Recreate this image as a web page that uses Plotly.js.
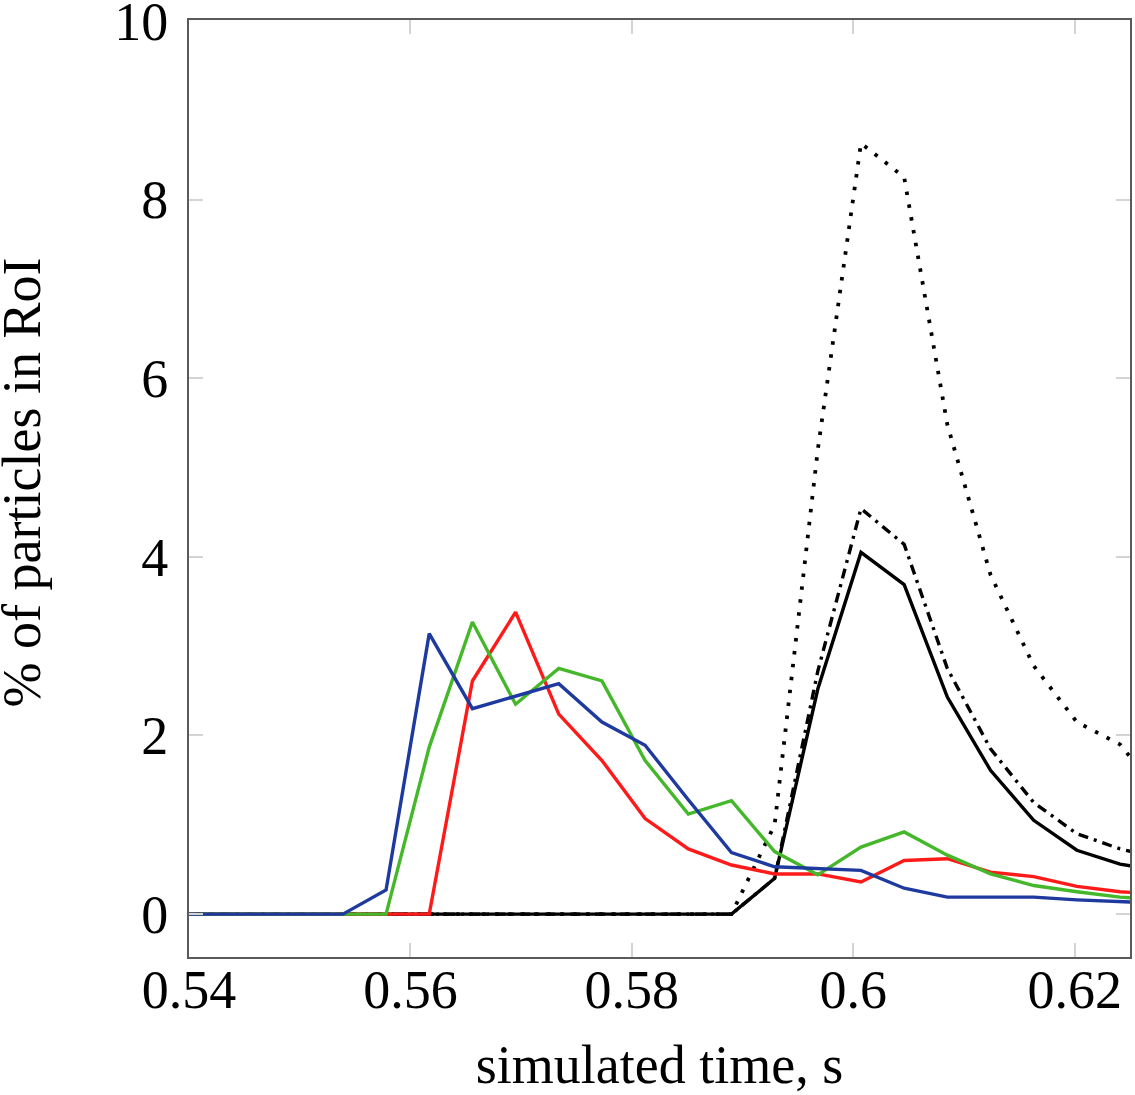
<!DOCTYPE html>
<html>
<head>
<meta charset="utf-8">
<script src="https://cdn.plot.ly/plotly-3.0.1.min.js"></script>
<style>
	html, body { margin: 0; padding: 0; background: #fff; }
	#plotter-display { width: 1135px; height: 1095px; }
</style>
</head>
<body>
<div id="plotter-display"></div>
<script>
	// simulated time, s
	const time = [
		0.5383, 0.5422, 0.5461, 0.5500, 0.5539, 0.5578, 0.5617, 0.5656,
		0.5695, 0.5734, 0.5773, 0.5812, 0.5851, 0.5890, 0.5929, 0.5968,
		0.6007, 0.6046, 0.6085, 0.6124, 0.6163, 0.6202, 0.6241, 0.6280
	];

	// % of particles in RoI
	const blue = [
		0, 0, 0, 0, 0, 0.27, 3.14, 2.30,
		2.44, 2.58, 2.15, 1.89, 1.28, 0.69, 0.53, 0.51,
		0.49, 0.29, 0.19, 0.19, 0.19, 0.16, 0.14, 0.12
	];
	const green = [
		0, 0, 0, 0, 0, 0, 1.87, 3.27,
		2.35, 2.75, 2.61, 1.72, 1.12, 1.27, 0.70, 0.44,
		0.75, 0.92, 0.66, 0.45, 0.32, 0.25, 0.19, 0.16
	];
	const red = [
		0, 0, 0, 0, 0, 0, 0, 2.61,
		3.38, 2.24, 1.72, 1.07, 0.73, 0.55, 0.45, 0.45,
		0.36, 0.60, 0.62, 0.47, 0.42, 0.31, 0.25, 0.22
	];
	const blackSolid = [
		0, 0, 0, 0, 0, 0, 0, 0,
		0, 0, 0, 0, 0, 0, 0.40, 2.52,
		4.05, 3.69, 2.43, 1.61, 1.05, 0.715, 0.56, 0.48
	];
	const blackDashDot = [
		0, 0, 0, 0, 0, 0, 0, 0,
		0, 0, 0, 0, 0, 0, 0.40, 2.72,
		4.54, 4.14, 2.75, 1.85, 1.25, 0.90, 0.73, 0.62
	];
	const blackDotted = [
		0, 0, 0, 0, 0, 0, 0, 0,
		0, 0, 0, 0, 0, 0, 1.00, 5.20,
		8.63, 8.25, 5.48, 3.80, 2.78, 2.15, 1.90, 1.30
	];

	const xTicks = [0.54, 0.56, 0.58, 0.6, 0.62];
	const yTicks = [0, 2, 4, 6, 8, 10];
	const yTitle = '% of particles in RoI';

	const serif = '"Liberation Serif", "DejaVu Serif", serif';

	const line = (y, color, dash, width) => ({
		x: time,
		y: y,
		type: 'scatter',
		mode: 'lines',
		line: { color: color, width: width || 3.4, dash: dash || 'solid' },
		showlegend: false,
		hoverinfo: 'skip',
	});

	// black first so the coloured series sit on top, blue last
	const data = [
		line(blackDotted, '#000000', '3.5px,9.5px', 3.8),
		line(blackDashDot, '#000000', '10px,6px,3px,6px'),
		line(blackSolid, '#000000'),
		line(red, '#ff1a1a'),
		line(green, '#44b82a'),
		line(blue, '#1f3a9e'),
	];

	const axis = {
		showline: true,
		linecolor: '#5a5a5a',
		linewidth: 2,
		mirror: 'ticks',
		ticks: 'inside',
		ticklen: 14,
		tickwidth: 2,
		tickcolor: '#d4d4d4',
		showgrid: false,
		zeroline: false,
		ticklabeloverflow: 'allow',
		tickfont: { family: serif, size: 54, color: '#000' },
	};

	const layout = {
		width: 1135,
		height: 1095,
		margin: { t: 20, l: 189, r: 5, b: 138 },
		paper_bgcolor: '#ffffff',
		plot_bgcolor: '#ffffff',
		xaxis: Object.assign({}, axis, {
			range: [0.54, 0.625],
			tickvals: xTicks,
			ticktext: xTicks.map(String),
			ticklabelstandoff: -16,
			title: {
				text: 'simulated time, s',
				font: { family: serif, size: 54, color: '#000' },
				standoff: 26,
			},
		}),
		yaxis: Object.assign({}, axis, {
			range: [-0.48, 10.01],
			tickvals: yTicks,
			ticktext: yTicks.map(String),
			ticklabelstandoff: 8,
		}),
		// y title as a rotated note, the axis title gets held off the left edge
		annotations: [{
			text: yTitle,
			textangle: -90,
			xref: 'paper',
			yref: 'paper',
			x: -0.178,
			y: 0.506,
			xanchor: 'center',
			yanchor: 'middle',
			showarrow: false,
			font: { family: serif, size: 54, color: '#000' },
		}],
	};

	Plotly.newPlot('plotter-display', data, layout, { displayModeBar: false, staticPlot: true });
</script>
</body>
</html>
